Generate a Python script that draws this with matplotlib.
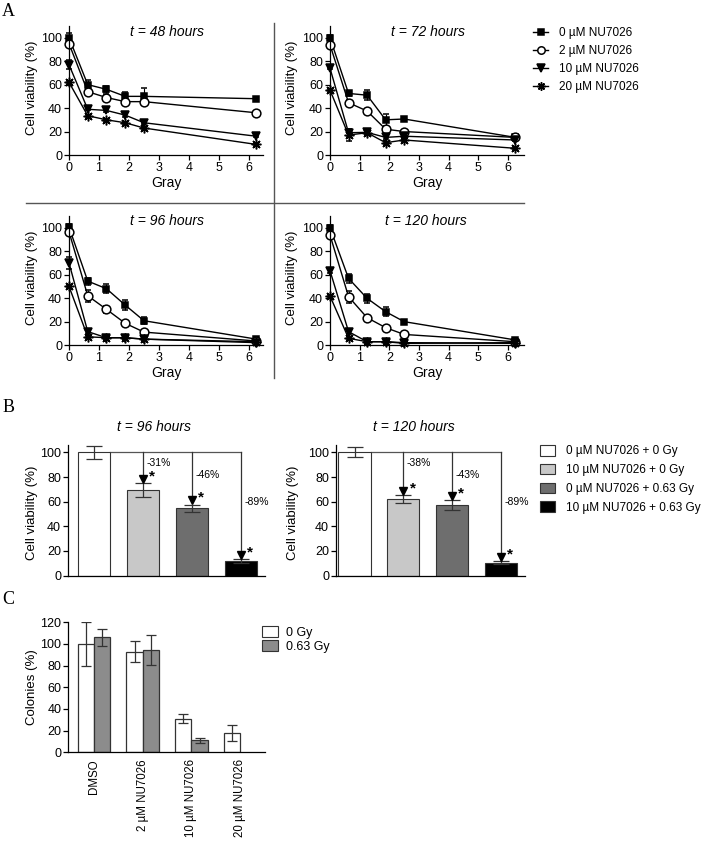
import matplotlib
matplotlib.use('Agg')
import matplotlib.pyplot as plt
from matplotlib.lines import Line2D
from matplotlib.patches import Patch

plt.rcParams['font.family'] = ['Liberation Sans', 'DejaVu Sans']
plt.rcParams['axes.linewidth'] = 0.9

W, H = 715, 843

# ---------------- data ----------------
dose_gy = [0, 0.625, 1.25, 1.875, 2.5, 6.25]
conc_labels = ['0 µM NU7026', '2 µM NU7026', '10 µM NU7026', '20 µM NU7026']
time_titles = ['t = 48 hours', 't = 72 hours', 't = 96 hours', 't = 120 hours']

via48 = [[100, 60, 56, 50, 50, 48],
         [95, 54, 49, 45.5, 45.5, 36],
         [77, 39, 38, 34, 27.5, 16],
         [62, 33.5, 30, 27.5, 23, 9]]
err48 = [[4, 4, 3, 4, 7, 1],
         [1, 3, 2, 2, 2, 1],
         [4, 1, 1, 2, 1, 1],
         [1, 1, 1, 1, 1, 1]]
via72 = [[100, 52.5, 51, 30, 30.7, 15],
         [94, 44.6, 37.5, 22, 20, 15],
         [74, 19, 19.3, 15, 16, 12.8],
         [55.4, 17, 19, 10.5, 12.8, 5.7]]
err72 = [[2, 2, 4, 5, 2, 1],
         [1, 2, 1, 2, 1, 1],
         [1, 3, 2, 1, 2, 1],
         [1, 5, 1, 1, 1, 1]]
via96 = [[100.5, 54.5, 48, 34, 20.7, 5],
         [96.6, 42, 30.4, 18.5, 11, 3.4],
         [70, 11.4, 6.2, 6.2, 5, 2],
         [50, 7, 6.2, 6.2, 5, 2.8]]
err96 = [[3, 3, 4, 4, 3, 1],
         [3, 5, 3, 1, 1, 1],
         [5, 2, 1, 1, 1, 1],
         [1, 1, 1, 1, 1, 1]]
via120 = [[100, 56.8, 39.8, 28.4, 19.9, 4.3],
          [93.8, 41.2, 23.3, 14.8, 9, 2.8],
          [63.4, 11.4, 2.8, 2.8, 2, 1.4],
          [41.8, 5.7, 2.8, 2.8, 1.4, 2]]
err120 = [[2, 4, 4, 4, 1, 1],
          [2, 5, 1, 1, 1, 1],
          [2, 2, 1, 1, 1, 1],
          [1, 1, 1, 1, 1, 1]]

bar_labels_B = ['0 µM NU7026 + 0 Gy', '10 µM NU7026 + 0 Gy',
                '0 µM NU7026 + 0.63 Gy', '10 µM NU7026 + 0.63 Gy']
bar96 = [100, 69.5, 54.5, 11.5]
barerr96 = [5, 5.5, 3, 1.5]
pct96 = ['-31%', '-46%', '-89%']
bar120 = [100, 62, 57, 10.5]
barerr120 = [4, 3, 4, 1]
pct120 = ['-38%', '-43%', '-89%']

c_categories = ['DMSO', '2 µM NU7026', '10 µM NU7026', '20 µM NU7026']
colonies_0gy = [100, 93, 31, 18]
colonies_0gy_err = [20, 9.5, 4, 7.5]
colonies_063gy = [106, 94.5, 11]
colonies_063gy_err = [7.5, 14, 2]

# ---------------- helpers ----------------
fig = plt.figure(figsize=(W / 100, H / 100), dpi=100)


def axes_px(l, t, r, b):
    return fig.add_axes([l / W, 1 - b / H, (r - l) / W, (b - t) / H])


def style(ax):
    for s in ['top', 'right']:
        ax.spines[s].set_visible(False)
    ax.tick_params(labelsize=9, length=3.5, width=0.9, pad=1.5)


def ftext(x, y, s, **kw):
    fig.text(x / W, 1 - y / H, s, **kw)


markers = ['s', 'o', 'v', (8, 2, 0)]
mfcs = ['black', 'white', 'black', 'black']
msizes = [5, 6.3, 6, 7]

# ---------------- panel A ----------------
specs = [(via48, err48, (69, 26, 263, 155), 6.47),
         (via72, err72, (330, 26, 524, 155), 6.54),
         (via96, err96, (69, 216, 263, 345), 6.47),
         (via120, err120, (330, 216, 524, 345), 6.54)]
for (vals, errs, box, xr) in specs:
    ax = axes_px(*box)
    style(ax)
    for i in range(4):
        cont = ax.errorbar(dose_gy, vals[i], yerr=errs[i], color='black', lw=1,
                           marker=markers[i], mfc=mfcs[i], mec='black', mew=1.1,
                           ms=msizes[i], capsize=2.5, elinewidth=0.8,
                           label=conc_labels[i])
        for art in cont.get_children():
            art.set_clip_on(False)
    ax.set_xlim(0, xr)
    ax.set_ylim(0, 110)
    ax.set_xticks(range(7))
    ax.set_yticks(range(0, 101, 20))

title_pos = [(167, 32), (428, 32), (167, 221), (426, 221)]
for t, (x, y) in zip(time_titles, title_pos):
    ftext(x, y, t, ha='center', va='center', fontsize=10, style='italic')
for x, y in [(31.7, 88), (291.7, 88), (31.7, 278), (291.7, 278)]:
    ftext(x, y, 'Cell viability (%)', ha='center', va='center', rotation=90, fontsize=9.5)
for x, y in [(166, 183), (427, 183), (166, 373), (427, 373)]:
    ftext(x, y, 'Gray', ha='center', va='center', fontsize=10)

hA = [Line2D([0], [0], color='black', lw=1, marker=markers[i], mfc=mfcs[i], mec='black',
             mew=1.1, ms=msizes[i] * 0.85) for i in range(4)]
fig.legend(hA, conc_labels, loc='upper left', bbox_to_anchor=(533 / W, 1 - 27 / H),
           frameon=False, fontsize=8.5, handlelength=1.3, handletextpad=0.9,
           labelspacing=0.5, borderaxespad=0, borderpad=0)

fig.add_artist(Line2D([274 / W, 274 / W], [1 - 23 / H, 1 - 378 / H], color='#555555', lw=1))
fig.add_artist(Line2D([26 / W, 524 / W], [1 - 203 / H, 1 - 203 / H], color='#555555', lw=1))

# ---------------- panel B ----------------
colorsB = ['white', '#c8c8c8', '#6e6e6e', 'black']
label_y = [91, 82, 60]
for vals, errs, pcts, box, xl, title, tpos, ylx in [
        (bar96, barerr96, pct96, (68, 445, 265, 575.5), -0.54, 't = 96 hours', (154, 427), 31.7),
        (bar120, barerr120, pct120, (336, 445, 525, 575.5), -0.38, 't = 120 hours', (414, 427), 293)]:
    ax = axes_px(*box)
    style(ax)
    xs = list(range(4))
    ax.bar(xs, vals, width=0.66, color=colorsB, edgecolor='#333333', lw=0.8, zorder=2)
    ax.errorbar(xs, vals, yerr=errs, fmt='none', ecolor='#333333', elinewidth=0.9,
                capsize=5.5, capthick=0.9, zorder=3)
    ax.plot([0.33, 3], [vals[0], vals[0]], color='#555555', lw=0.9, zorder=1)
    for i in range(1, 4):
        tip = vals[i] + errs[i] + 3.5
        ax.plot([i, i], [vals[0], tip], color='#333333', lw=0.9, zorder=1)
        ax.plot([i], [tip], marker='v', color='black', ms=5.5, zorder=4)
        ax.text(i + 0.13, tip + 2, '*', fontsize=11, fontweight='bold', ha='left', va='center')
        ax.text(i + 0.07, label_y[i - 1], pcts[i - 1], fontsize=7.5, ha='left', va='center')
    ax.set_xlim(xl, 3.5)
    ax.set_ylim(0, 106)
    ax.set_xticks([])
    ax.set_yticks(range(0, 101, 20))
    ftext(tpos[0], tpos[1], title, ha='center', va='center', fontsize=10, style='italic')
    ftext(ylx, 513, 'Cell viability (%)', ha='center', va='center', rotation=90, fontsize=9.5)

hB = [Patch(facecolor=c, edgecolor='#333333', lw=0.8) for c in colorsB]
fig.legend(hB, bar_labels_B, loc='upper left', bbox_to_anchor=(540 / W, 1 - 445 / H),
           frameon=False, fontsize=8.5, handlelength=1.3, handleheight=1.0,
           handletextpad=0.9, labelspacing=0.55, borderaxespad=0, borderpad=0)

# ---------------- panel C ----------------
axC = axes_px(68.3, 622.3, 265, 752.3)
style(axC)
bw = 0.335
x0 = [i - bw / 2 for i in range(4)]
x1 = [i + bw / 2 for i in range(len(colonies_063gy))]
axC.bar(x0, colonies_0gy, width=bw, color='white', edgecolor='#333333', lw=0.9, zorder=2)
axC.errorbar(x0, colonies_0gy, yerr=colonies_0gy_err, fmt='none', ecolor='#333333',
             elinewidth=0.9, capsize=3.5, capthick=0.9, zorder=3)
axC.bar(x1, colonies_063gy, width=bw, color='#8c8c8c', edgecolor='#333333', lw=0.9, zorder=2)
axC.errorbar(x1, colonies_063gy, yerr=colonies_063gy_err, fmt='none', ecolor='#333333',
             elinewidth=0.9, capsize=3.5, capthick=0.9, zorder=3)
axC.set_xlim(-0.53, 3.51)
axC.set_ylim(0, 120)
axC.set_yticks(range(0, 121, 20))
axC.set_xticks(range(4))
axC.set_xticklabels(c_categories, rotation=90, fontsize=8.3)
axC.tick_params(axis='x', length=0, pad=5)
ftext(31.7, 687, 'Colonies (%)', ha='center', va='center', rotation=90, fontsize=9.5)
hC = [Patch(facecolor='white', edgecolor='#333333', lw=0.8),
      Patch(facecolor='#8c8c8c', edgecolor='#333333', lw=0.8)]
fig.legend(hC, ['0 Gy', '0.63 Gy'], loc='upper left', bbox_to_anchor=(262 / W, 1 - 626 / H),
           frameon=False, fontsize=9, handlelength=1.3, handleheight=1.0,
           handletextpad=0.6, labelspacing=0.1, borderaxespad=0, borderpad=0)

# panel letters
for x, y, s in [(8.5, 12, 'A'), (9, 407, 'B'), (8.5, 600, 'C')]:
    ftext(x, y, s, ha='center', va='center', fontsize=13, family='Liberation Serif')

fig.savefig('out.png', dpi=100)
